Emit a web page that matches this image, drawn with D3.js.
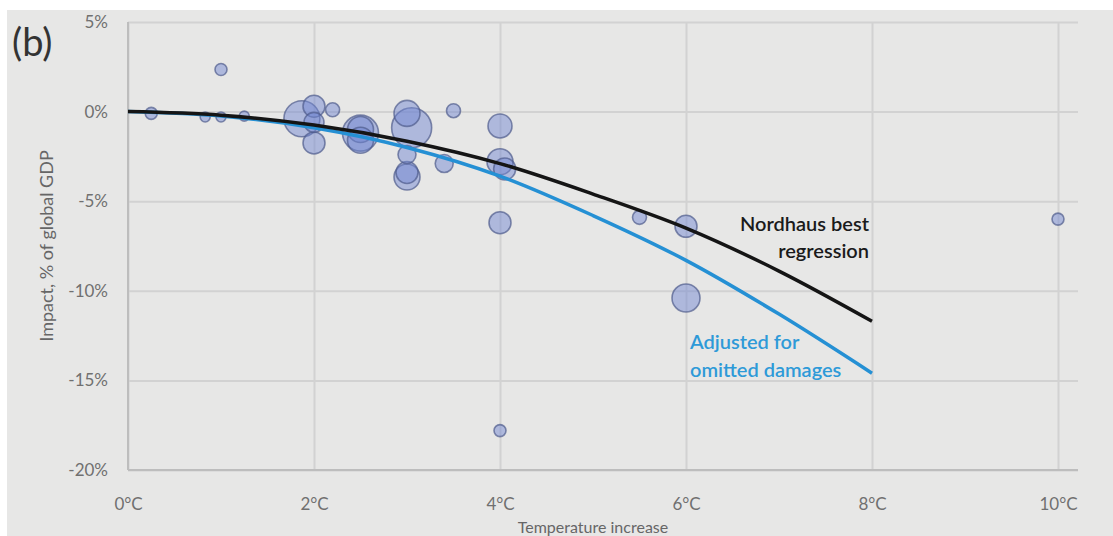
<!DOCTYPE html>
<html>
<head>
<meta charset="utf-8">
<script src="https://cdn.jsdelivr.net/npm/d3@7"></script>
<style>
  html, body { margin: 0; padding: 0; background: #ffffff; }
  svg { display: block; }
</style>
</head>
<body>
<div id="chart"></div>
<script>
// temperature increase (°C), impact (% of global GDP), bubble size (area units)
const studyTemps   = [0.25, 1.0, 0.83, 1.0, 1.25, 1.87, 2.0, 2.0, 2.0, 2.2, 2.5, 2.5, 2.5, 3.0, 3.05, 3.0, 3.0, 3.0, 3.4, 3.5, 4.0, 4.0, 4.05, 4.0, 4.0, 5.5, 6.0, 6.0, 10.0];
const studyImpacts = [-0.1, 2.35, -0.3, -0.3, -0.25, -0.4, 0.3, -0.6, -1.75, 0.1, -1.2, -1.0, -1.6, -0.1, -0.9, -2.4, -3.65, -3.4, -2.9, 0.05, -0.8, -2.8, -3.2, -6.2, -17.8, -5.9, -6.4, -10.4, -6.0];
const studySizes   = [36, 36, 25, 25, 25, 324, 121, 100, 121, 49, 324, 169, 169, 169, 400, 81, 169, 121, 81, 49, 144, 169, 121, 121, 36, 49, 121, 196, 36];

// regression curves
const curveTemps    = [0, 1, 2, 3, 4, 5, 6, 7, 8];
const nordhausVals  = [0, -0.2, -0.75, -1.65, -2.9, -4.6, -6.5, -8.9, -11.7];
const adjustedVals  = [0, -0.25, -0.9, -2.0, -3.6, -5.8, -8.3, -11.3, -14.6];

const xTicks = [0, 2, 4, 6, 8, 10];
const yTicks = [5, 0, -5, -10, -15, -20];

const width = 1113, height = 536;
const svg = d3.select("#chart").append("svg").attr("width", width).attr("height", height);

svg.append("rect").attr("x", 7).attr("y", 10).attr("width", width - 7).attr("height", height - 10).attr("fill", "#e7e7e6");

const x = d3.scaleLinear().domain([0, 10]).range([128, 1058]);
const y = d3.scaleLinear().domain([-20, 5]).range([470, 22]);
const r = d3.scaleSqrt().domain([0, 400]).range([0, 20]);
const plotRight = x(10) + 20;
const font = "Lato, 'Open Sans', sans-serif";

// horizontal gridlines + y labels
svg.append("g").
attr("transform", "translate(" + x(0) + ",0)").
call(d3.axisLeft(y).tickValues(yTicks).tickSize(-(plotRight - x(0))).tickPadding(20).tickFormat(d => d + "%")).
call(g => g.select(".domain").remove()).
call(g => g.selectAll(".tick line").attr("stroke", "#d2d2d2").attr("stroke-width", 2)).
call(g => g.selectAll(".tick text").attr("fill", "#707070").style("font", "17px " + font));

// vertical gridlines + x labels
svg.append("g").
attr("transform", "translate(0," + y(-20) + ")").
call(d3.axisBottom(x).tickValues(xTicks).tickSize(-(y(-20) - y(5))).tickPadding(28).tickFormat(d => d + "°C")).
call(g => g.select(".domain").remove()).
call(g => g.selectAll(".tick line").attr("stroke", "#d2d2d2").attr("stroke-width", 2)).
call(g => g.selectAll(".tick text").attr("fill", "#707070").style("font", "17px " + font));

// axis lines
svg.append("line").attr("x1", x(0)).attr("x2", x(0)).attr("y1", y(5)).attr("y2", y(-20)).attr("stroke", "#bdbdbd").attr("stroke-width", 2);
svg.append("line").attr("x1", x(0)).attr("x2", plotRight).attr("y1", y(-20)).attr("y2", y(-20)).attr("stroke", "#bdbdbd").attr("stroke-width", 2);

// bubbles
const studies = studyTemps.map((t, i) => ({ t: t, v: studyImpacts[i], s: studySizes[i] }));
svg.append("g").
selectAll("circle").
data(studies.slice().sort((a, b) => b.s - a.s)).
join("circle").
attr("cx", d => x(d.t)).
attr("cy", d => y(d.v)).
attr("r", d => r(d.s)).
attr("fill", "#7186d0").
attr("fill-opacity", 0.48).
attr("stroke", "#4f5b8c").
attr("stroke-opacity", 0.7).
attr("stroke-width", 1.6);

// regression curves
const line = d3.line().x(d => x(d[0])).y(d => y(d[1])).curve(d3.curveMonotoneX);
svg.append("path").datum(curveTemps.map((t, i) => [t, adjustedVals[i]])).
attr("d", line).attr("fill", "none").attr("stroke", "#2590d4").attr("stroke-width", 3.5);
svg.append("path").datum(curveTemps.map((t, i) => [t, nordhausVals[i]])).
attr("d", line).attr("fill", "none").attr("stroke", "#151515").attr("stroke-width", 3.5);

// curve labels
const labelFont = "600 20px " + font;
svg.append("text").attr("x", x(8) - 3).attr("y", 231).attr("text-anchor", "end").attr("fill", "#1a1a1a").
style("font", labelFont).text("Nordhaus best");
svg.append("text").attr("x", x(8) - 3).attr("y", 258).attr("text-anchor", "end").attr("fill", "#1a1a1a").
style("font", labelFont).text("regression");
svg.append("text").attr("x", 690).attr("y", 349).attr("fill", "#2e9ad8").
style("font", labelFont).text("Adjusted for");
svg.append("text").attr("x", 690).attr("y", 377).attr("fill", "#2e9ad8").
style("font", labelFont).text("omitted damages");

// titles
svg.append("text").attr("transform", "translate(53," + ((y(5) + y(-20)) / 2) + ") rotate(-90)").
attr("text-anchor", "middle").attr("fill", "#666").style("font", "18px " + font).text("Impact, % of global GDP");
svg.append("text").attr("x", 593).attr("y", 533).attr("text-anchor", "middle").attr("fill", "#666").
style("font", "16px " + font).text("Temperature increase");
svg.append("text").attr("x", 12).attr("y", 56).attr("fill", "#333").style("font", "38px " + font).text("(b)");
</script>
</body>
</html>
